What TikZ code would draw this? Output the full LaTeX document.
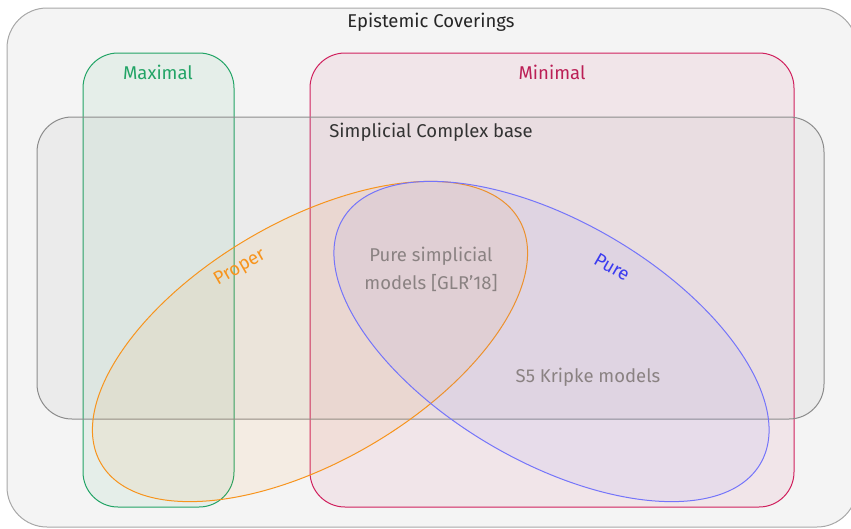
\documentclass[tikz,border=0pt]{standalone}
\usepackage{fontspec}
\setmainfont{Fira Sans}
\definecolor{outerfill}{HTML}{F4F4F4}
\definecolor{outerline}{HTML}{A8A8A8}
\definecolor{maxgreen}{HTML}{22A466}
\definecolor{mincrim}{HTML}{D0215E}
\definecolor{baseline}{HTML}{8C8C8C}
\definecolor{properor}{HTML}{F7941D}
\definecolor{pureblue}{HTML}{7474FA}
\definecolor{puretxt}{HTML}{3B3BF0}
\definecolor{innertxt}{HTML}{8A8282}
\tikzset{
  lbl/.style={font=\fontsize{18.5}{22}\selectfont, inner sep=0pt},
  region/.style={line width=1pt, rounded corners=35pt},
}
\begin{document}
\begin{tikzpicture}[x=1pt,y=-1pt]
\useasboundingbox (0,0) rectangle (851,528);
\clip (0,0) rectangle (851,528);
% outer
\path[draw=outerline, fill=outerfill, line width=1pt, rounded corners=40pt] (7,8) rectangle (857,527);
\node[lbl, text=black!85] (title) at (431,22) {Epistemic Coverings};
% Maximal
\path[region, draw=maxgreen, fill=maxgreen, fill opacity=0.07] (83,53) rectangle (234,507);
\node[lbl, text=maxgreen] (maxl) at (158,72) {Maximal};
% Minimal
\path[region, draw=mincrim, fill=mincrim, fill opacity=0.07] (310,53) rectangle (794,507);
\node[lbl, text=mincrim!90!black] (minl) at (552,72) {Minimal};
% Simplicial complex base
\path[region, draw=baseline, fill=gray, fill opacity=0.07] (37,117) rectangle (824,419);
\node[lbl, text=black!80] (basel) at (431,132) {Simplicial Complex base};
% Ellipses
\path[draw=properor, line width=1pt, fill=properor, fill opacity=0.08]
  (310,341.5) ellipse [x radius=242, y radius=120, rotate=30.3];
\path[draw=pureblue, line width=1pt, fill=pureblue, fill opacity=0.08]
  (551.5,341.5) ellipse [x radius=242, y radius=120, rotate=-30.3];
\node[lbl, text=properor, rotate=30] (prop) at (240,268) {Proper};
\node[lbl, text=puretxt, rotate=-30] (purel) at (612,267) {Pure};
\node[lbl, text=innertxt, align=center, font=\fontsize{18.5}{28}\selectfont] (psm) at (431,269) {Pure simplicial\\models [GLR’18]};
\node[lbl, text=innertxt] (s5) at (588,377) {S5 Kripke models};
\end{tikzpicture}
\end{document}
